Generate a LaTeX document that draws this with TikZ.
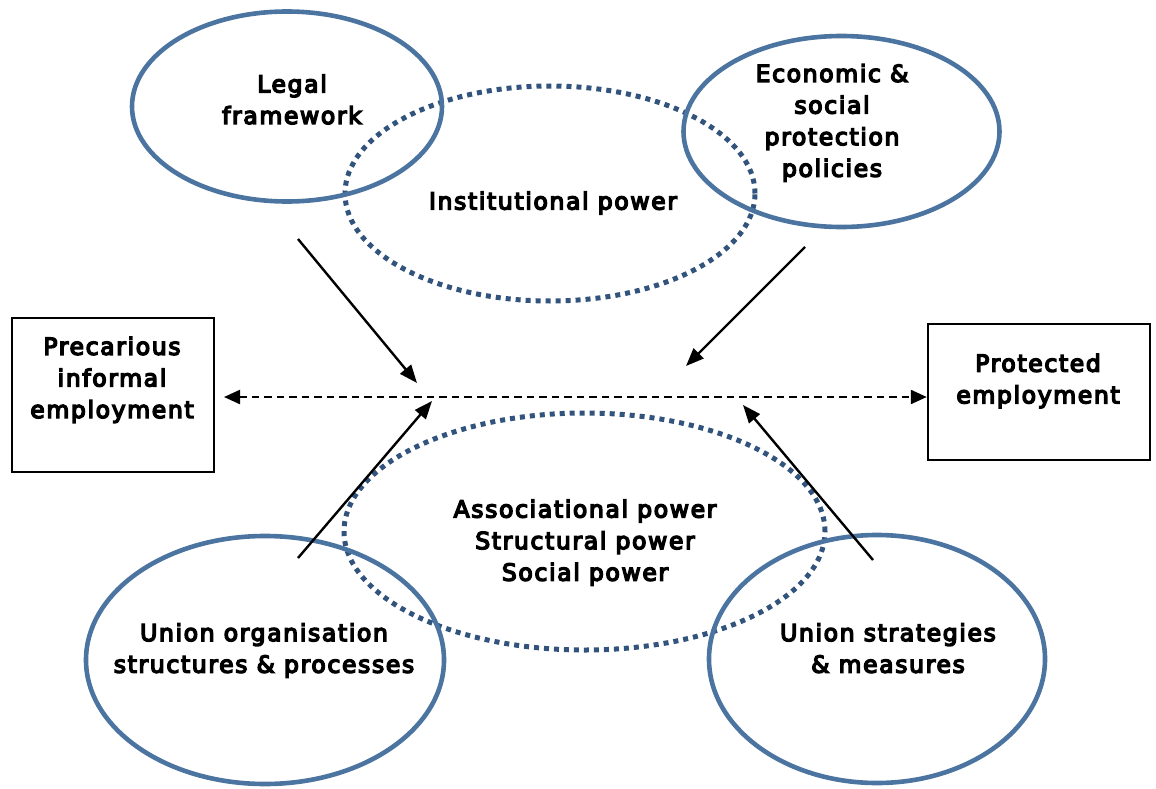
\documentclass[tikz,border=0pt]{standalone}
\usepackage{fontspec}
\setmainfont{DejaVu Sans}[FakeBold=6, LetterSpace=7]
\usetikzlibrary{shapes.geometric,arrows.meta}
\definecolor{ringblue}{RGB}{76,116,160}
\definecolor{dotblue}{RGB}{50,84,124}
\begin{document}
\begin{tikzpicture}[x=1pt,y=-1pt,
  ringshape/.style={ellipse, draw=ringblue, line width=4.6pt, inner sep=0pt},
  dotringshape/.style={ellipse, draw=dotblue, line width=5pt, inner sep=0pt,
    dash pattern=on 5pt off 5pt},
  endbox/.style={draw=black, inner sep=0pt},
  lbltext/.style={font=\fontsize{23.5}{31.6}\selectfont, align=center, inner sep=0pt, anchor=base},
  pusharrow/.style={draw=black, line width=2.4pt, -{Triangle[length=18pt,width=14pt]}},
  twowayarrow/.style={draw=black, line width=2.3pt, dash pattern=on 7.5pt off 5pt,
    {Triangle[length=16pt,width=14pt]}-{Triangle[length=16pt,width=14pt]}}]
\useasboundingbox (0,0) rectangle (1156,789);

% power fields
\node[dotringshape, minimum width=410pt, minimum height=215pt] (inst) at (550,193.5) {};
\node[dotringshape, minimum width=481pt, minimum height=237pt] (assoc) at (584.5,531.5) {};

% influencing factors
\node[ringshape, minimum width=310pt, minimum height=190pt] (legal) at (287,106.5) {};
\node[ringshape, minimum width=316pt, minimum height=191pt] (econ) at (841.5,131.5) {};
\node[ringshape, minimum width=358pt, minimum height=248pt] (orgs) at (265,660) {};
\node[ringshape, minimum width=336pt, minimum height=248pt] (strat) at (877,659) {};

% employment poles
\node[endbox, line width=1.6pt, minimum width=202pt, minimum height=154pt] (prec) at (113,395) {};
\node[endbox, line width=2.5pt, minimum width=222pt, minimum height=136pt] (prot) at (1039,392) {};

% labels, placed by the baseline of their last line
\node[lbltext] (legal-t) at (292,124) {Legal\\framework};
\node[lbltext] (econ-t) at (832,176.7) {Economic \&\\social\\protection\\policies};
\node[lbltext] (inst-t) at (553,209.5) {Institutional power};
\node[lbltext] (prec-t) at (112,418) {Precarious\\informal\\employment};
\node[lbltext] (prot-t) at (1038,403.3) {Protected\\employment};
\node[lbltext] (assoc-t) at (585,580.7) {Associational power\\Structural power\\Social power};
\node[lbltext] (orgs-t) at (264,672.7) {Union organisation\\structures \& processes};
\node[lbltext] (strat-t) at (888,672.7) {Union strategies\\\& measures};

% arrow ends
\coordinate (a1s) at (298,239);  \coordinate (a1e) at (417,383);
\coordinate (a2s) at (805,247);  \coordinate (a2e) at (686,366);
\coordinate (a3s) at (298,558);  \coordinate (a3e) at (432,401);
\coordinate (a4s) at (873,560);  \coordinate (a4e) at (743,405);
\coordinate (dl) at (224,397);
\coordinate (dr) at (prot.west |- dl);

\draw[pusharrow] (a1s) -- (a1e);
\draw[pusharrow] (a2s) -- (a2e);
\draw[pusharrow] (a3s) -- (a3e);
\draw[pusharrow] (a4s) -- (a4e);
\draw[twowayarrow] (dl) -- (dr);
\end{tikzpicture}
\end{document}
